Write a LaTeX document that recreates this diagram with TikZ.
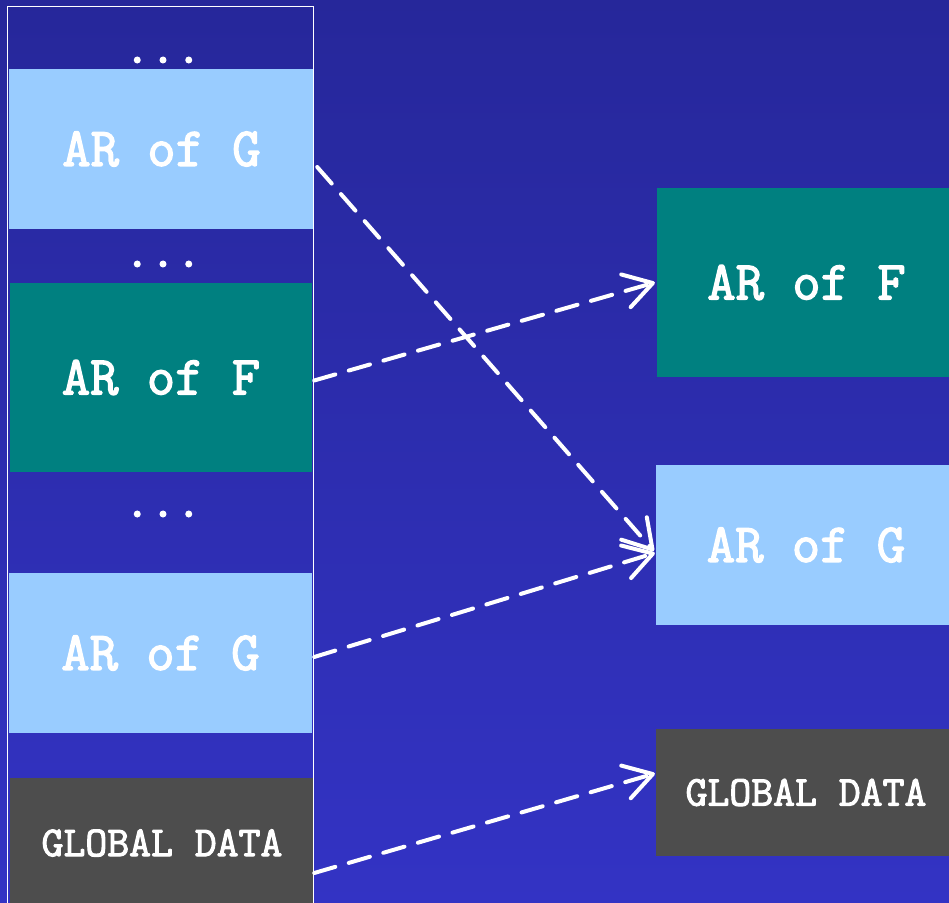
\documentclass[tikz,border=0pt]{standalone}
\usepackage{fontspec}
\usetikzlibrary{arrows.meta}
% heavy slab typewriter face for the box labels
\newfontfamily\heavytt{Latin Modern Mono}[FakeBold=2.5]

\definecolor{bgtop}{HTML}{26279A}
\definecolor{bgbottom}{HTML}{3333C4}
\definecolor{argreen}{HTML}{008080}
\definecolor{arblue}{HTML}{99CCFF}
\definecolor{globgray}{HTML}{4D4D4D}

\tikzset{
  recbox/.style={rectangle, inner sep=0pt, text=white,
    font=\heavytt\fontsize{55}{55}\selectfont},
  globbox/.style={rectangle, inner sep=0pt, text=white, fill=globgray,
    font=\heavytt\fontsize{42.5}{42.5}\selectfont},
  gap/.style={inner sep=0pt, text=white,
    font=\heavytt\fontsize{50}{50}\selectfont},
  link/.style={draw=white, line width=4pt, line cap=round,
    dash pattern=on 22pt off 14pt,
    -{Straight Barb[length=28pt,width=34pt,line width=4pt,round]}},
}

\begin{document}
\begin{tikzpicture}[x=1pt,y=-1pt]
  \useasboundingbox (0,0) rectangle (949,902);
  \shade[top color=bgtop, bottom color=bgbottom] (0,0) rectangle (949,902);

  % the stack of activation records
  \node[recbox, fill=arblue, minimum width=305pt, minimum height=160pt] (g1) at (161.5,149) {AR of G};
  \node[recbox, fill=argreen, minimum width=302pt, minimum height=189pt] (f1) at (161,377.5) {AR of F};
  \node[recbox, fill=arblue, minimum width=303pt, minimum height=160pt] (g2) at (160.5,653) {AR of G};
  \node[globbox, minimum width=304pt, minimum height=130pt] (gd1) at (162,843) {GLOBAL DATA};

  \node[gap] (d1) at (163,60) {...};
  \node[gap] (d2) at (163,264) {...};
  \node[gap] (d3) at (163,514) {...};

  \draw[white, line width=1.5pt] (7.5,6.5) rectangle (313.5,915);

  % the records the links point to
  \node[recbox, fill=argreen, minimum width=299pt, minimum height=189pt] (f2) at (806.5,282.5) {AR of F};
  \node[recbox, fill=arblue, minimum width=300pt, minimum height=160pt] (g3) at (806,545) {AR of G};
  \node[globbox, minimum width=300pt, minimum height=127pt] (gd2) at (806,792.5) {GLOBAL DATA};

  % links
  \draw[link] ([xshift=3pt,yshift=-18pt]g1.east) -- ([xshift=-2pt,yshift=-6pt]g3.west);
  \draw[link] ([xshift=2pt,yshift=-3pt]f1.east) -- ([xshift=-2pt]f2.west);
  \draw[link] ([xshift=2pt,yshift=-4pt]g2.east) -- ([xshift=-1pt,yshift=-8pt]g3.west);
  \draw[link] ([yshift=-30pt]gd1.east) -- ([xshift=-1pt,yshift=19pt]gd2.west);
\end{tikzpicture}
\end{document}
